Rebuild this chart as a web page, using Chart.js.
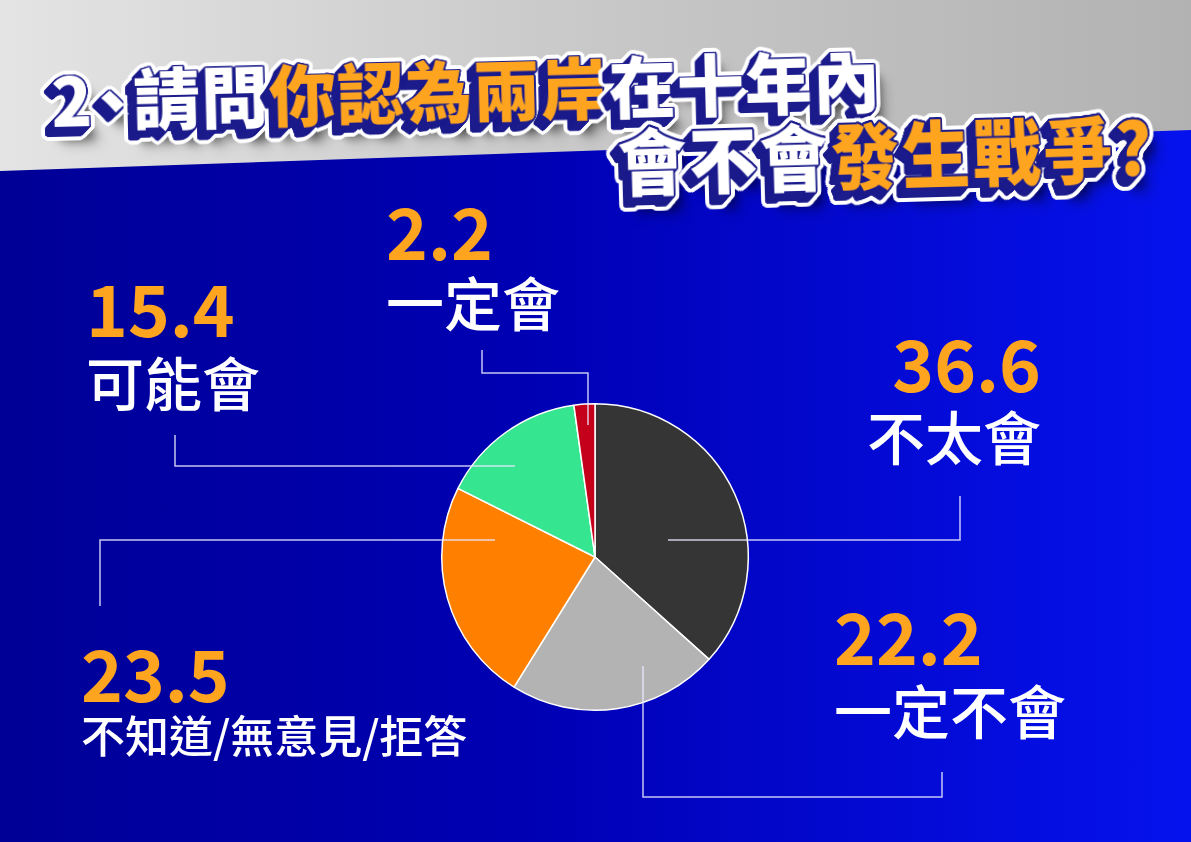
<!DOCTYPE html>
<html>
<head>
<meta charset="utf-8">
<script src="https://cdn.jsdelivr.net/npm/chart.js@4/dist/chart.umd.min.js"></script>
<style>
  html, body { margin: 0; padding: 0; }
  body {
    width: 1191px; height: 842px; overflow: hidden; position: relative;
    background: linear-gradient(90deg, #000096 0%, #0000b4 45%, #0612ee 100%);
    font-family: "Noto Sans CJK TC", "Noto Sans", sans-serif;
  }
  #band {
    position: absolute; left: 0; top: 0; width: 1191px; height: 842px;
    background: linear-gradient(90deg, #e4e4e4 0%, #c8c8c8 50%, #b2b2b2 100%);
    clip-path: polygon(0 0, 1191px 0, 1191px 130px, 0 171px);
  }
  #chart { position: absolute; left: 0; top: 0; }
  .title {
    position: absolute; white-space: nowrap; line-height: 1;
    font-weight: 900; color: #fff; transform-origin: 0 100%;
  }
  .title .hl { color: #ffa41f; }
  .num, .lab { position: absolute; line-height: 1; white-space: nowrap; }
  .num { color: #ffa41f; font-weight: 700; font-size: 71px; }
  .lab { color: #fff; font-weight: 500; }
</style>
</head>
<body>
<div id="band"></div>
<canvas id="chart" width="1191" height="842"></canvas>
<div class="title" id="t1" style="left:52px; top:64px; font-size:67px; letter-spacing:1px; transform:rotate(-1.4deg);">2<span style="margin:0 -14px">、</span>請問<span class="hl">你認為兩岸</span>在十年內</div>
<div class="title" id="t2" style="left:619px; top:127px; font-size:68px; letter-spacing:3px; transform:rotate(-1.6deg) scaleY(1.06);">會不會<span class="hl">發生戰爭?</span></div>
<div id="labels"></div>
<script>
// data
const answers = ['不太會', '一定不會', '不知道/無意見/拒答', '可能會', '一定會'];
const shares = [36.6, 22.2, 23.5, 15.4, 2.2];
const sliceColors = ['#353535', '#b3b3b3', '#ff8000', '#36e590', '#c4001a'];

// where each callout sits (layout only)
const calloutText = [
  { x: 1041, align: 'right', numTop: 326, labTop: 406, size: 58 },
  { x: 834, align: 'left', numTop: 599, labTop: 680, size: 58 },
  { x: 81, align: 'left', numTop: 636, labTop: 712, size: 44 },
  { x: 86, align: 'left', numTop: 271, labTop: 352, size: 58 },
  { x: 386, align: 'left', numTop: 194, labTop: 272, size: 58 }
];
// leader lines, offsets from the pie centre
const calloutLines = [
  [[73, -17], [365, -17], [365, -61]],
  [[48, 109], [48, 240], [347, 240], [347, 215]],
  [[-100, -17], [-495, -17], [-495, 49]],
  [[-80, -91], [-420, -91], [-420, -122]],
  [[-7, -132], [-7, -184], [-113, -184], [-113, -207]]
];

// title effect: navy rim, extrusion down-left, white outline, soft shadow
(() => {
  const s = [];
  const ring = (r, dx, dy, col) => {
    for (let a = 0; a < 20; a++) {
      const t = a / 20 * Math.PI * 2;
      s.push(`${(dx + r * Math.cos(t)).toFixed(1)}px ${(dy + r * Math.sin(t)).toFixed(1)}px 0 ${col}`);
    }
  };
  ring(1.5, 0, 0, '#1c1c8c');
  for (let d = 1; d <= 8; d++) ring(1.5, -d, d, '#1c1c8c');
  for (let d = 0; d <= 8; d++) ring(5.5, -d, d, '#ffffff');
  s.push('4px 12px 10px rgba(0,0,0,0.55)');
  s.push('8px 16px 14px rgba(0,0,0,0.35)');
  const shadow = s.join(',');
  document.getElementById('t1').style.textShadow = shadow;
  document.getElementById('t2').style.textShadow = shadow;
})();

// value + answer labels
const holder = document.getElementById('labels');
answers.forEach((name, i) => {
  const p = calloutText[i];
  const num = document.createElement('div');
  num.className = 'num';
  num.textContent = shares[i].toFixed(1);
  const lab = document.createElement('div');
  lab.className = 'lab';
  lab.textContent = name;
  lab.style.fontSize = p.size + 'px';
  num.style.top = p.numTop + 'px';
  lab.style.top = p.labTop + 'px';
  if (p.align === 'right') {
    num.style.right = (1191 - p.x) + 'px';
    lab.style.right = (1191 - p.x) + 'px';
  } else {
    num.style.left = p.x + 'px';
    lab.style.left = p.x + 'px';
  }
  holder.appendChild(num);
  holder.appendChild(lab);
});

const leaderLines = {
  id: 'leaderLines',
  afterDatasetsDraw(chart) {
    const arc = chart.getDatasetMeta(0).data[0];
    if (!arc) return;
    const ctx = chart.ctx;
    ctx.save();
    ctx.strokeStyle = 'rgba(232,232,255,0.85)';
    ctx.lineWidth = 1.5;
    calloutLines.forEach(pts => {
      ctx.beginPath();
      pts.forEach(([dx, dy], k) => {
        const x = arc.x + dx, y = arc.y + dy;
        k ? ctx.lineTo(x, y) : ctx.moveTo(x, y);
      });
      ctx.stroke();
    });
    ctx.restore();
  }
};

new Chart(document.getElementById('chart').getContext('2d'), {
  type: 'pie',
  data: {
    labels: answers,
    datasets: [{
      data: shares,
      backgroundColor: sliceColors,
      borderColor: '#ffffff',
      borderWidth: 1.5
    }]
  },
  options: {
    responsive: false,
    animation: false,
    layout: { padding: { left: 441, right: 442, top: 403, bottom: 131 } },
    plugins: {
      legend: { display: false },
      tooltip: { enabled: false }
    }
  },
  plugins: [leaderLines]
});
</script>
</body>
</html>
